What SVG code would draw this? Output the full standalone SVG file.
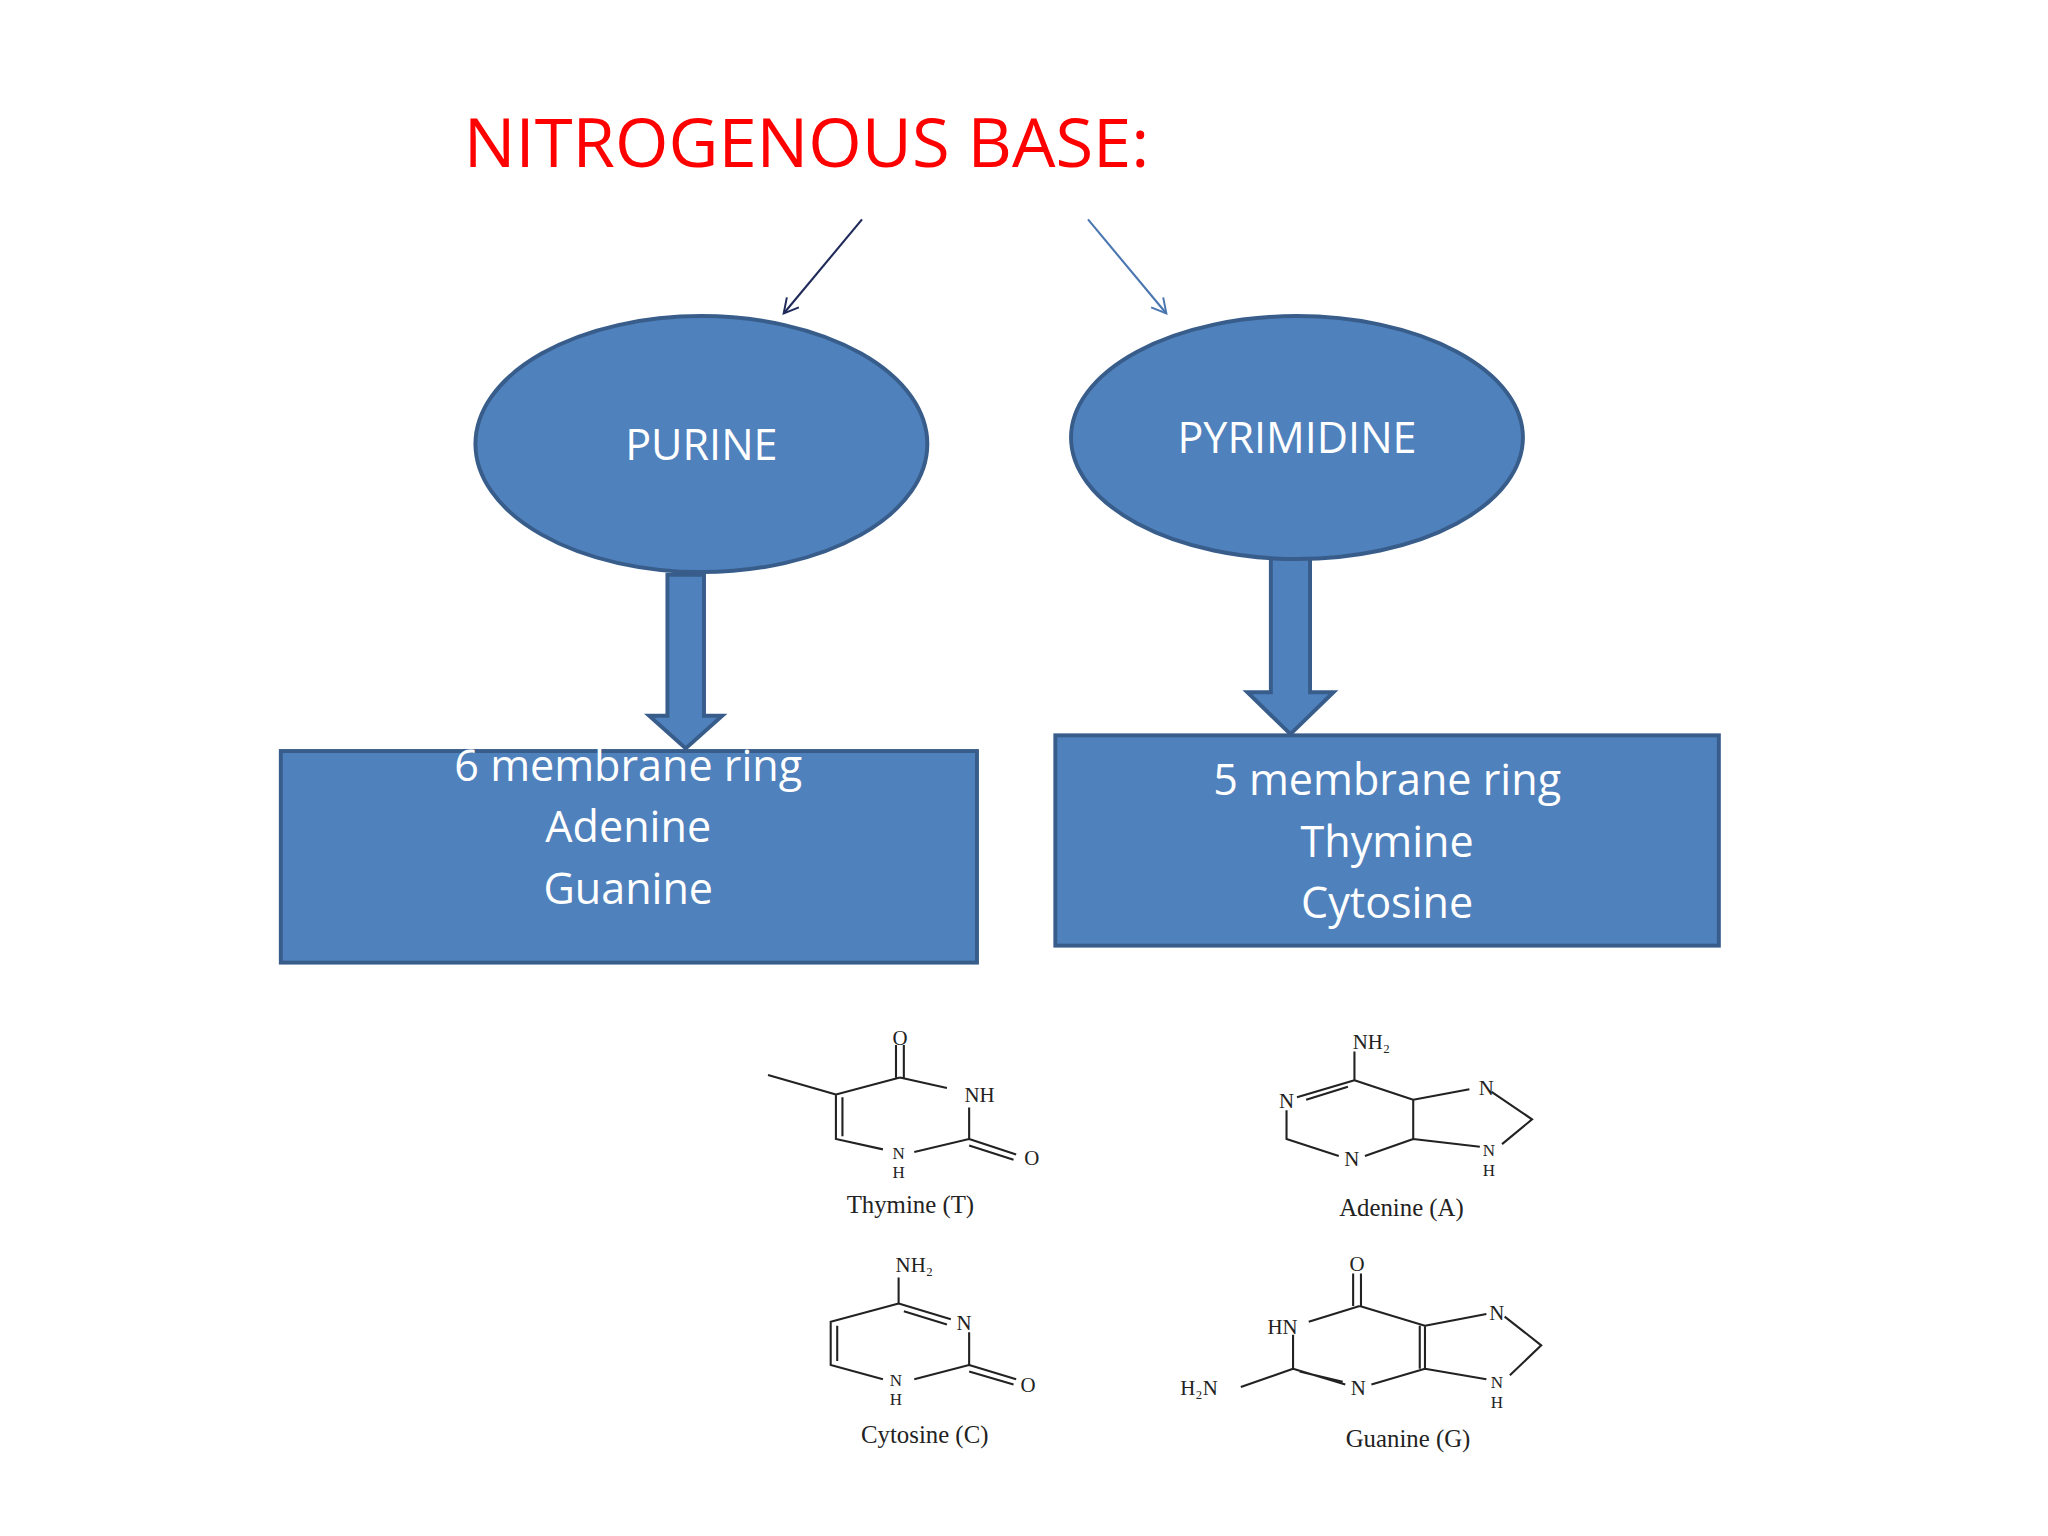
<svg xmlns="http://www.w3.org/2000/svg" width="2048" height="1536" viewBox="0 0 2048 1536">
<style>
.node{fill:#4F81BD;stroke:#385D8A;stroke-width:3}
.lbl{font-family:"Open Sans","Liberation Sans",sans-serif;fill:#fff;font-size:33px;text-anchor:middle}
.ch{fill:none;stroke:#222;stroke-width:1.6}
.ct{font-family:"Liberation Serif",serif;font-size:16px;fill:#222;text-anchor:middle}
.cs{font-family:"Liberation Serif",serif;font-size:13px;fill:#222;text-anchor:middle}
.cn{font-family:"Liberation Serif",serif;font-size:19px;fill:#222;text-anchor:middle}
</style>
<defs>
<marker id="ah" markerWidth="14" markerHeight="14" refX="12" refY="7" orient="auto" markerUnits="userSpaceOnUse"><path d="M1,1 L12,7 L1,13" fill="none" stroke="context-stroke" stroke-width="1.5"/></marker>
</defs>
<rect width="2048" height="1536" fill="#fff"/>
<g transform="scale(1.30612)">
<text x="355" y="128" font-family="'Open Sans','Liberation Sans',sans-serif" font-size="52" fill="#FF0000" textLength="525" lengthAdjust="spacingAndGlyphs">NITROGENOUS BASE:</text>
<g id="connectors">
<line x1="660" y1="168" x2="600" y2="240" stroke="#1F2A5A" stroke-width="1.6" marker-end="url(#ah)"/>
<line x1="833" y1="168" x2="893" y2="240" stroke="#4A76B0" stroke-width="1.6" marker-end="url(#ah)"/>
<path class="node" d="M511,440 L539,440 L539,548 L553,548 L525,573 L497,548 L511,548 Z"/>
<path class="node" d="M973,415 L1003,415 L1003,530 L1021,530 L988,562 L955,530 L973,530 Z"/>
</g>
<g id="purine"><ellipse class="node" cx="537" cy="340" rx="173" ry="98"/><text class="lbl" x="537" y="352">PURINE</text></g>
<g id="pyrimidine"><ellipse class="node" cx="993" cy="335" rx="173" ry="93"/><text class="lbl" x="993" y="347">PYRIMIDINE</text></g>
<g id="purine-box"><rect class="node" x="215" y="575" width="533" height="162"/>
<text class="lbl" x="481" y="598">6 membrane ring</text><text class="lbl" x="481" y="645">Adenine</text><text class="lbl" x="481" y="692">Guanine</text></g>
<g id="pyrimidine-box"><rect class="node" x="808" y="563" width="508" height="161"/>
<text class="lbl" x="1062" y="609">5 membrane ring</text><text class="lbl" x="1062" y="656">Thymine</text><text class="lbl" x="1062" y="703">Cytosine</text></g>
<g id="thymine">
<path class="ch" d="M689,825 L725,833 M742,848 L742,872 L700,882 M676,880 L640,872 L640,838 L689,825 M645,840 L645,870 M692,800 L692,825 M686,800 L686,825 M640,838 L588,823 M742,872 L778,884 M742,877 L776,888"/>
<text class="ct" x="750" y="844">NH</text><text class="ct" x="689" y="800">O</text><text class="ct" x="790" y="892">O</text>
<text class="cs" x="688" y="887">N</text><text class="cs" x="688" y="902">H</text>
<text class="cn" x="697" y="929">Thymine (T)</text></g>
<g id="adenine">
<path class="ch" d="M1037,827 L1037,805 M1037,827 L993,840 M1032,832 L1000,842 M985,850 L985,872 L1025,885 M1045,885 L1082,872 L1082,842 L1037,827 M1082,842 L1125,834 M1142,836 L1173,857 L1150,876 M1133,878 L1082,872"/>
<text class="ct" x="1050" y="803">NH₂</text><text class="ct" x="985" y="848">N</text><text class="ct" x="1035" y="893">N</text><text class="ct" x="1138" y="838">N</text>
<text class="cs" x="1140" y="885">N</text><text class="cs" x="1140" y="900">H</text>
<text class="cn" x="1073" y="931">Adenine (A)</text></g>
<g id="cytosine">
<path class="ch" d="M688,978 L688,998 L728,1010 M692,1004 L725,1014 M742,1020 L742,1045 L700,1056 M676,1056 L636,1045 L636,1012 L688,998 M641,1015 L641,1042 M742,1045 L778,1056 M742,1050 L776,1060"/>
<text class="ct" x="700" y="974">NH₂</text><text class="ct" x="738" y="1018">N</text><text class="ct" x="787" y="1066">O</text>
<text class="cs" x="686" y="1061">N</text><text class="cs" x="686" y="1076">H</text>
<text class="cn" x="708" y="1105">Cytosine (C)</text></g>
<g id="guanine">
<path class="ch" d="M1036,975 L1036,1000 M1042,975 L1042,1000 M1041,1000 L1002,1012 M990,1022 L990,1048 L1030,1060 M995,1050 L1028,1058 M1050,1060 L1091,1048 L1091,1015 L1041,1000 M1087,1015 L1087,1048 M1091,1015 L1138,1006 M1152,1008 L1180,1030 L1156,1053 M1138,1056 L1091,1048 M990,1048 L950,1062"/>
<text class="ct" x="1039" y="973">O</text><text class="ct" x="982" y="1021">HN</text><text class="ct" x="1040" y="1068">N</text><text class="ct" x="1146" y="1011">N</text>
<text class="cs" x="1146" y="1063">N</text><text class="cs" x="1146" y="1078">H</text>
<text class="ct" x="918" y="1068">H₂N</text>
<text class="cn" x="1078" y="1108">Guanine (G)</text></g>
</g>
</svg>
